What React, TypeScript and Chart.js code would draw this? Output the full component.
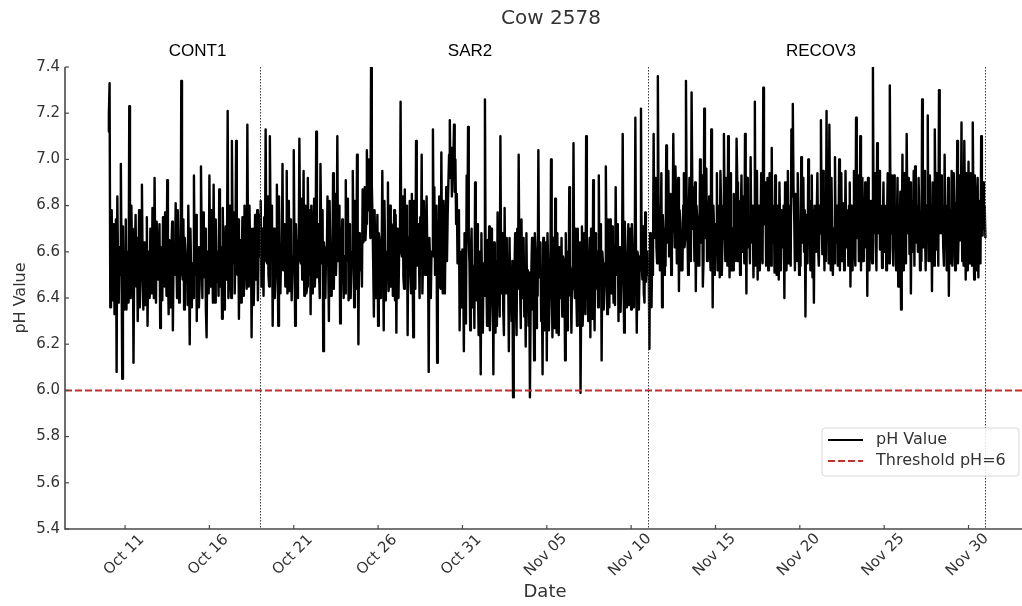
import React, { useEffect, useRef } from 'react';
import { Chart, registerables } from 'chart.js';

Chart.register(...registerables);

// Time axis: day numbers counted from Oct 0 (Oct 11 = 11, Nov 5 = 36, Dec 1 = 62)
const START_DAY = 10; // first reading: Oct 10, 00:00
const STEP_DAYS = 1 / 24; // hourly readings

// Hourly pH readings (24 per day), estimated from the reference chart
const phValues: number[] = [
  // Oct 10
  7.12, 7.2, 7.33, 6.36, 6.58, 6.78, 6.39, 6.52, 6.72, 6.33, 6.45, 6.74,
  6.08, 6.84, 6.55, 6.38, 6.62, 6.5, 6.98, 6.56, 6.05, 6.71, 6.5, 6.35,
  // Oct 11
  6.6, 6.74, 6.35, 6.6, 6.52, 6.38, 7.23, 6.52, 6.4, 6.8, 6.58, 6.7,
  6.12, 6.56, 6.62, 6.76, 6.45, 6.66, 6.3, 6.5, 6.78, 6.36, 6.48, 6.6,
  // Oct 12
  6.89, 6.55, 6.35, 6.64, 6.62, 6.37, 6.55, 6.75, 6.28, 6.6, 6.5, 6.4,
  6.7, 6.47, 6.42, 6.79, 6.58, 6.4, 6.92, 6.57, 6.38, 6.73, 6.55, 6.48,
  // Oct 13
  6.6, 6.72, 6.27, 6.62, 6.5, 6.39, 6.75, 6.48, 6.45, 6.77, 6.58, 6.41,
  6.91, 6.54, 6.33, 6.65, 6.47, 6.36, 6.62, 6.73, 6.26, 6.58, 6.6, 6.5,
  // Oct 14
  6.81, 6.57, 6.4, 6.78, 6.62, 6.38, 6.55, 6.5, 7.34, 6.55, 6.48, 6.74,
  6.35, 6.66, 6.6, 6.47, 6.55, 6.37, 6.8, 6.52, 6.2, 6.7, 6.52, 6.36,
  // Oct 15
  6.55, 6.4, 6.93, 6.56, 6.5, 6.76, 6.3, 6.62, 6.62, 6.36, 6.45, 6.58,
  6.97, 6.66, 6.4, 6.77, 6.58, 6.49, 6.7, 6.35, 6.23, 6.6, 6.6, 6.42,
  // Oct 16
  6.93, 6.54, 6.45, 6.78, 6.58, 6.38, 6.89, 6.56, 6.38, 6.74, 6.52, 6.47,
  6.6, 6.41, 6.87, 6.64, 6.45, 6.62, 6.31, 6.79, 6.55, 6.35, 6.5, 6.71,
  // Oct 17
  6.48, 6.58, 7.21, 6.4, 6.6, 6.8, 6.5, 6.4, 7.08, 6.68, 6.55, 6.77,
  6.42, 6.6, 7.08, 6.53, 6.5, 6.74, 6.31, 6.64, 6.65, 6.38, 6.58, 6.75,
  // Oct 18
  6.52, 6.41, 6.8, 6.5, 6.55, 6.44, 7.15, 6.6, 6.45, 6.8, 6.6, 6.7,
  6.23, 6.62, 6.7, 6.37, 6.52, 6.76, 6.48, 6.52, 6.78, 6.39, 6.62, 6.76,
  // Oct 19
  6.58, 6.82, 6.45, 6.7, 6.62, 6.41, 6.75, 6.56, 7.13, 6.62, 6.55, 6.84,
  6.5, 6.45, 7.1, 6.72, 6.6, 6.8, 6.28, 6.66, 6.7, 6.4, 6.5, 6.62,
  // Oct 20
  6.89, 6.58, 6.28, 6.84, 6.55, 6.42, 6.6, 6.57, 6.98, 6.52, 6.62, 6.72,
  6.45, 6.6, 6.95, 6.42, 6.58, 6.82, 6.43, 6.74, 6.72, 6.39, 6.52, 6.58,
  // Oct 21
  7.04, 6.63, 6.28, 6.72, 6.6, 6.4, 6.65, 6.56, 7.09, 6.68, 6.55, 6.83,
  6.48, 6.62, 6.95, 6.41, 6.62, 6.8, 6.42, 6.45, 6.92, 6.6, 6.5, 6.78,
  // Oct 22
  6.33, 6.8, 6.6, 6.42, 6.68, 6.83, 6.45, 6.58, 7.12, 6.49, 6.6, 6.72,
  6.51, 6.4, 6.98, 6.7, 6.55, 6.78, 6.17, 6.64, 6.55, 6.4, 6.62, 6.56,
  // Oct 23
  6.84, 6.56, 6.3, 6.82, 6.58, 6.41, 6.62, 6.57, 6.94, 6.44, 6.66, 6.85,
  6.5, 6.61, 7.1, 6.56, 6.6, 6.8, 6.29, 6.66, 6.65, 6.74, 6.52, 6.4,
  // Oct 24
  6.58, 6.42, 6.91, 6.56, 6.62, 6.83, 6.39, 6.72, 6.7, 6.4, 6.55, 6.6,
  6.95, 6.6, 6.36, 6.82, 6.65, 6.44, 7.02, 6.68, 6.2, 6.68, 6.58, 6.52,
  // Oct 25
  6.6, 6.45, 6.87, 6.64, 6.7, 6.88, 6.65, 6.72, 7.04, 6.84, 6.78, 7.0,
  6.8, 6.66, 7.41, 6.9, 6.75, 6.55, 6.32, 6.78, 6.6, 6.4, 6.55, 6.76,
  // Oct 26
  6.28, 6.68, 6.65, 6.4, 6.5, 6.55, 6.95, 6.58, 6.26, 6.82, 6.6, 6.39,
  6.58, 6.56, 6.9, 6.43, 6.52, 6.8, 6.45, 6.72, 6.7, 6.41, 6.62, 6.78,
  // Oct 27
  6.39, 6.76, 6.25, 6.7, 6.52, 6.4, 6.62, 6.6, 7.25, 6.6, 6.58, 6.84,
  6.49, 6.44, 6.87, 6.53, 6.65, 6.8, 6.24, 6.66, 6.6, 6.82, 6.5, 6.42,
  // Oct 28
  6.85, 6.58, 6.23, 6.82, 6.55, 6.44, 7.08, 6.68, 6.54, 6.72, 6.62, 6.4,
  6.75, 6.56, 7.02, 6.42, 6.58, 6.82, 6.51, 6.5, 6.7, 6.84, 6.6, 6.64,
  // Oct 29
  6.08, 6.66, 6.55, 6.4, 6.6, 6.58, 7.13, 6.68, 6.88, 6.5, 6.5, 6.8,
  6.12, 6.64, 6.6, 6.84, 6.45, 6.44, 7.03, 6.58, 6.42, 6.82, 6.62, 6.42,
  // Oct 30
  6.7, 6.88, 6.56, 6.76, 6.9, 7.02, 7.17, 6.92, 7.05, 6.84, 7.02, 6.98,
  7.15, 6.86, 7.0, 6.72, 6.85, 6.55, 6.68, 6.78, 6.26, 6.6, 6.55, 6.36,
  // Oct 31
  6.61, 6.52, 6.17, 6.68, 6.48, 6.29, 6.93, 6.66, 7.14, 6.64, 6.55, 6.26,
  6.6, 6.7, 6.36, 6.54, 6.52, 6.27, 6.9, 6.5, 6.39, 6.72, 6.45, 6.24,
  // Nov 01
  6.6, 6.44, 6.07, 6.68, 6.4, 6.25, 6.55, 6.41, 7.26, 6.54, 6.5, 6.28,
  6.65, 6.44, 6.71, 6.26, 6.38, 6.7, 6.45, 6.54, 6.07, 6.64, 6.48, 6.25,
  // Nov 02
  6.56, 6.28, 6.77, 6.38, 6.45, 6.32, 7.1, 6.52, 6.42, 6.68, 6.35, 6.24,
  6.79, 6.42, 6.55, 6.66, 6.42, 6.52, 6.17, 6.66, 6.4, 6.49, 6.3, 6.56,
  // Nov 03
  5.97, 6.46, 6.51, 6.68, 6.38, 6.24, 6.7, 6.44, 7.02, 6.52, 6.45, 6.27,
  6.74, 6.41, 6.4, 6.66, 6.32, 6.49, 6.19, 6.68, 6.41, 6.52, 6.28, 6.51,
  // Nov 04
  5.97, 6.36, 6.51, 6.66, 6.35, 6.49, 6.13, 6.68, 6.6, 6.27, 6.42, 6.41,
  7.04, 6.54, 6.49, 6.64, 6.3, 6.44, 6.07, 6.66, 6.49, 6.26, 6.38, 6.64,
  // Nov 05
  6.13, 6.68, 6.55, 6.26, 6.4, 6.41, 7.0, 6.52, 6.23, 6.66, 6.5, 6.27,
  6.83, 6.5, 6.25, 6.68, 6.38, 6.24, 6.62, 6.4, 6.45, 6.66, 6.32, 6.58,
  // Nov 06
  6.56, 6.52, 6.13, 6.68, 6.45, 6.26, 6.6, 6.41, 6.88, 6.54, 6.52, 6.25,
  6.49, 6.44, 7.07, 6.5, 6.4, 6.7, 6.42, 6.28, 6.7, 6.42, 6.35, 6.64,
  // Nov 07
  5.99, 6.41, 6.71, 6.28, 6.4, 6.68, 6.45, 6.33, 7.1, 6.56, 6.5, 6.3,
  6.56, 6.66, 6.23, 6.7, 6.42, 6.31, 6.91, 6.52, 6.26, 6.68, 6.48, 6.44,
  // Nov 08
  6.6, 6.36, 6.93, 6.5, 6.5, 6.72, 6.13, 6.6, 6.55, 6.35, 6.45, 6.52,
  6.97, 6.54, 6.33, 6.74, 6.55, 6.36, 6.74, 6.46, 6.42, 6.71, 6.52, 6.38,
  // Nov 09
  6.62, 6.37, 6.88, 6.5, 6.52, 6.72, 6.3, 6.62, 6.58, 6.34, 6.48, 6.52,
  7.11, 6.55, 6.25, 6.73, 6.6, 6.36, 6.55, 6.49, 6.72, 6.37, 6.45, 6.7,
  // Nov 10
  6.35, 6.72, 6.6, 6.36, 6.5, 6.5, 7.18, 6.54, 6.25, 6.6, 6.58, 6.35,
  6.52, 6.52, 7.22, 6.56, 6.48, 6.71, 6.42, 6.38, 6.77, 6.47, 6.55, 6.6,
  // Nov 11
  6.5, 6.54, 6.18, 6.68, 6.45, 6.36, 6.61, 6.5, 7.11, 6.66, 6.7, 6.92,
  6.62, 6.55, 7.36, 6.8, 6.75, 6.52, 6.62, 6.94, 6.36, 6.76, 6.68, 6.5,
  // Nov 12
  6.7, 6.54, 7.06, 6.64, 6.75, 6.95, 6.58, 6.8, 6.85, 6.5, 6.68, 6.7,
  7.11, 6.78, 6.62, 6.97, 6.82, 6.55, 6.8, 6.92, 6.43, 6.78, 6.72, 6.52,
  // Nov 13
  6.68, 6.52, 6.8, 6.94, 6.62, 6.66, 7.34, 6.78, 6.71, 6.5, 6.78, 6.92,
  6.6, 6.56, 7.29, 6.88, 6.7, 6.8, 6.56, 6.9, 6.43, 6.8, 6.75, 6.54,
  // Nov 14
  6.75, 6.54, 7.0, 6.64, 6.68, 6.93, 6.45, 6.56, 7.22, 6.66, 6.8, 6.96,
  6.56, 6.78, 6.7, 6.84, 6.62, 6.52, 7.13, 6.88, 6.36, 6.8, 6.7, 6.5,
  // Nov 15
  6.72, 6.66, 6.94, 6.52, 6.7, 6.8, 6.49, 6.95, 6.8, 6.5, 6.65, 6.68,
  7.11, 6.78, 6.56, 6.92, 6.8, 6.54, 7.1, 6.76, 6.49, 6.94, 6.72, 6.52,
  // Nov 16
  6.7, 6.52, 6.85, 6.66, 6.65, 6.56, 7.09, 6.9, 6.56, 6.82, 6.75, 6.5,
  6.78, 6.93, 6.6, 6.84, 6.82, 6.55, 7.11, 6.76, 6.42, 6.92, 6.68, 6.62,
  // Nov 17
  6.75, 6.55, 7.01, 6.64, 6.7, 6.8, 6.49, 6.68, 7.25, 6.54, 6.78, 6.95,
  6.48, 6.8, 6.8, 6.52, 6.66, 6.94, 6.62, 6.55, 7.31, 6.78, 6.72, 6.9,
  // Nov 18
  6.54, 6.68, 6.92, 6.52, 6.68, 6.94, 6.56, 6.54, 7.05, 6.64, 6.72, 6.8,
  6.51, 6.93, 6.75, 6.5, 6.62, 6.8, 6.48, 6.9, 6.7, 6.52, 6.78, 6.66,
  // Nov 19
  6.62, 6.8, 6.4, 6.9, 6.7, 6.52, 6.78, 6.95, 6.55, 6.8, 6.66, 6.54,
  7.13, 6.84, 7.24, 6.88, 6.75, 6.52, 6.85, 6.66, 6.56, 6.94, 6.72, 6.5,
  // Nov 20
  6.7, 6.54, 7.01, 6.64, 6.72, 6.92, 6.6, 6.78, 6.32, 6.76, 6.68, 6.55,
  7.0, 6.68, 6.82, 6.52, 6.75, 6.93, 6.49, 6.78, 6.38, 6.8, 6.6, 6.64,
  // Nov 21
  6.75, 6.94, 6.62, 6.54, 6.8, 6.68, 7.17, 6.78, 6.59, 6.95, 6.72, 6.52,
  6.85, 6.56, 7.21, 6.66, 6.78, 6.55, 7.15, 6.8, 6.52, 6.92, 6.7, 6.5,
  // Nov 22
  6.7, 6.55, 7.01, 6.64, 6.68, 6.8, 6.54, 6.68, 7.0, 6.52, 6.75, 6.94,
  6.56, 6.8, 6.81, 6.52, 6.62, 6.95, 6.62, 6.78, 6.75, 6.54, 6.8, 6.9,
  // Nov 23
  6.45, 6.8, 6.71, 6.52, 6.78, 6.95, 6.62, 6.54, 7.18, 6.78, 6.66, 6.93,
  6.56, 6.68, 7.1, 6.52, 6.75, 6.92, 6.56, 6.82, 6.7, 6.9, 6.62, 6.8,
  // Nov 24
  6.41, 6.92, 6.8, 6.52, 6.7, 6.82, 6.62, 6.55, 7.4, 6.68, 6.78, 6.94,
  6.64, 6.52, 7.07, 6.78, 6.68, 6.95, 6.61, 6.8, 6.75, 6.53, 6.72, 6.9,
  // Nov 25
  6.6, 6.8, 6.78, 6.52, 6.72, 6.94, 6.62, 6.55, 7.32, 6.78, 6.68, 6.93,
  6.62, 6.54, 6.93, 6.68, 6.8, 6.52, 6.7, 6.92, 6.45, 6.78, 6.66, 6.86,
  // Nov 26
  6.35, 6.68, 7.02, 6.52, 6.75, 6.94, 6.7, 6.55, 7.11, 6.78, 6.68, 6.92,
  6.59, 6.9, 6.42, 6.82, 6.6, 6.68, 6.95, 6.54, 6.97, 6.64, 6.7, 6.8,
  // Nov 27
  6.6, 6.92, 6.75, 6.52, 6.68, 6.56, 7.26, 6.8, 6.62, 6.95, 6.72, 6.52,
  6.8, 6.66, 7.19, 6.56, 6.78, 6.93, 6.56, 6.8, 6.43, 6.9, 6.7, 6.54,
  // Nov 28
  7.13, 6.78, 6.61, 6.94, 6.72, 6.54, 7.3, 6.68, 6.78, 6.93, 6.68, 6.8,
  6.62, 6.54, 7.02, 6.64, 6.8, 6.52, 6.7, 6.92, 6.41, 6.78, 6.75, 6.55,
  // Nov 29
  6.95, 6.54, 6.71, 6.94, 6.75, 6.52, 6.81, 6.68, 7.08, 6.55, 6.7, 6.93,
  6.65, 6.66, 7.16, 6.56, 6.82, 6.54, 7.08, 6.78, 6.48, 6.94, 6.68, 6.52,
  // Nov 30
  6.99, 6.55, 6.62, 6.94, 6.78, 6.54, 7.16, 6.78, 6.48, 6.93, 6.72, 6.52,
  6.8, 6.92, 6.49, 6.82, 6.75, 6.55, 7.1, 6.78, 6.67, 6.9, 6.7, 6.8,
  // Dec 01 00:00
  6.66,
];

const X_MIN_DAY = 7.44;
const X_MAX_DAY = 64.17;
const xTickDays = [11, 16, 21, 26, 31, 36, 41, 46, 51, 56, 61];
const xTickLabels = ['Oct 11', 'Oct 16', 'Oct 21', 'Oct 26', 'Oct 31', 'Nov 05', 'Nov 10', 'Nov 15', 'Nov 20', 'Nov 25', 'Nov 30'];
const yTickValues = [5.4, 5.6, 5.8, 6.0, 6.2, 6.4, 6.6, 6.8, 7.0, 7.2, 7.4];

const phaseBoundaryDays = [19, 42, 62];
const phaseNames = ['CONT1', 'SAR2', 'RECOV3'];
const phaseLabelDays = [15.3, 31.45, 52.25];

const THRESHOLD = 6;
const TITLE = 'Cow 2578';

const TEXT_COLOR = '#333333';
const SPINE_COLOR = '#4a4a4a';
const RED = '#c3302c';
const DEJAVU = '"DejaVu Sans", sans-serif';

const decorPlugin = {
  id: 'decor',
  afterDatasetsDraw(chart: any) {
    const { ctx, chartArea: a, scales } = chart;
    const xs = scales.x;
    const ys = scales.y;
    ctx.save();

    // phase boundaries (dotted)
    ctx.strokeStyle = '#3a3a3a';
    ctx.lineWidth = 1;
    ctx.setLineDash([1.5, 1.5]);
    phaseBoundaryDays.forEach((d) => {
      const px = Math.round(xs.getPixelForValue(d)) + 0.5;
      ctx.beginPath();
      ctx.moveTo(px, a.top);
      ctx.lineTo(px, a.bottom);
      ctx.stroke();
    });
    ctx.setLineDash([]);

    // spines
    ctx.strokeStyle = SPINE_COLOR;
    ctx.lineWidth = 1.6;
    ctx.beginPath();
    ctx.moveTo(a.left, a.top);
    ctx.lineTo(a.left, a.bottom);
    ctx.lineTo(a.right, a.bottom);
    ctx.stroke();

    // ticks (inward)
    ctx.lineWidth = 1.2;
    yTickValues.forEach((v) => {
      const py = ys.getPixelForValue(v);
      ctx.beginPath();
      ctx.moveTo(a.left, py);
      ctx.lineTo(a.left + 4, py);
      ctx.stroke();
    });
    xTickDays.forEach((d) => {
      const px = xs.getPixelForValue(d);
      ctx.beginPath();
      ctx.moveTo(px, a.bottom);
      ctx.lineTo(px, a.bottom - 4);
      ctx.stroke();
    });

    // tick labels
    ctx.fillStyle = TEXT_COLOR;
    ctx.font = '15px ' + DEJAVU;
    ctx.textAlign = 'right';
    ctx.textBaseline = 'middle';
    yTickValues.forEach((v) => {
      ctx.fillText(v.toFixed(1), a.left - 5, ys.getPixelForValue(v));
    });
    ctx.textAlign = 'center';
    xTickDays.forEach((d, i) => {
      const px = xs.getPixelForValue(d);
      ctx.save();
      ctx.translate(px - 1, a.bottom + 26);
      ctx.rotate(-Math.PI / 4);
      ctx.fillText(xTickLabels[i], 0, 0);
      ctx.restore();
    });

    // phase labels
    ctx.fillStyle = '#000000';
    ctx.font = '17px "Liberation Sans", Arial, sans-serif';
    ctx.textAlign = 'center';
    ctx.textBaseline = 'middle';
    phaseNames.forEach((name, i) => {
      ctx.fillText(name, xs.getPixelForValue(phaseLabelDays[i]), a.top - 16);
    });

    // title
    ctx.fillStyle = TEXT_COLOR;
    ctx.font = '20px ' + DEJAVU;
    ctx.fillText(TITLE, 551, 19);

    // axis titles
    ctx.font = '18px ' + DEJAVU;
    ctx.fillText('Date', 545, 592);
    ctx.save();
    ctx.font = '16px ' + DEJAVU;
    ctx.translate(21, (a.top + a.bottom) / 2);
    ctx.rotate(-Math.PI / 2);
    ctx.fillText('pH Value', 0, 0);
    ctx.restore();

    // legend
    const lx = 822, ly = 428, lw = 197, lh = 48;
    ctx.beginPath();
    const r = 3;
    ctx.moveTo(lx + r, ly);
    ctx.lineTo(lx + lw - r, ly);
    ctx.quadraticCurveTo(lx + lw, ly, lx + lw, ly + r);
    ctx.lineTo(lx + lw, ly + lh - r);
    ctx.quadraticCurveTo(lx + lw, ly + lh, lx + lw - r, ly + lh);
    ctx.lineTo(lx + r, ly + lh);
    ctx.quadraticCurveTo(lx, ly + lh, lx, ly + lh - r);
    ctx.lineTo(lx, ly + r);
    ctx.quadraticCurveTo(lx, ly, lx + r, ly);
    ctx.closePath();
    ctx.fillStyle = 'rgba(255,255,255,0.85)';
    ctx.fill();
    ctx.strokeStyle = '#d6d6d6';
    ctx.lineWidth = 1;
    ctx.stroke();

    ctx.lineWidth = 2;
    ctx.strokeStyle = '#000000';
    ctx.beginPath();
    ctx.moveTo(828, 440);
    ctx.lineTo(863, 440);
    ctx.stroke();
    ctx.strokeStyle = RED;
    ctx.setLineDash([7, 3]);
    ctx.beginPath();
    ctx.moveTo(828, 461);
    ctx.lineTo(863, 461);
    ctx.stroke();
    ctx.setLineDash([]);

    ctx.fillStyle = TEXT_COLOR;
    ctx.font = '16px ' + DEJAVU;
    ctx.textAlign = 'left';
    ctx.textBaseline = 'middle';
    ctx.fillText('pH Value', 876, 440);
    ctx.fillText('Threshold pH=' + THRESHOLD, 876, 461);

    ctx.restore();
  },
};

export default function App() {
  const canvasRef = useRef<HTMLCanvasElement | null>(null);

  useEffect(() => {
    document.body.style.margin = '0';
    const canvas = canvasRef.current;
    if (!canvas) return;

    const phPoints = phValues.map((v, i) => ({ x: START_DAY + i * STEP_DAYS, y: v }));
    const thresholdPoints = [
      { x: X_MIN_DAY, y: THRESHOLD },
      { x: X_MAX_DAY, y: THRESHOLD },
    ];

    const hiddenAxis = {
      grid: { display: false, drawTicks: false },
      border: { display: false },
      ticks: { display: false },
      title: { display: false },
    };

    const chart = new Chart(canvas, {
      type: 'line',
      data: {
        datasets: [
          {
            label: 'pH Value',
            data: phPoints,
            borderColor: '#000000',
            borderWidth: 2.4,
            borderJoinStyle: 'round',
            pointRadius: 0,
            tension: 0,
            fill: false,
            order: 2,
          },
          {
            label: 'Threshold pH=6',
            data: thresholdPoints,
            borderColor: RED,
            borderWidth: 2,
            borderDash: [7, 3],
            pointRadius: 0,
            fill: false,
            order: 1,
          },
        ],
      },
      options: {
        animation: false,
        responsive: false,
        devicePixelRatio: 1,
        layout: { padding: { left: 65, top: 67, right: 0, bottom: 77 } },
        plugins: {
          legend: { display: false },
          title: { display: false },
          tooltip: { enabled: false },
        },
        events: [],
        scales: {
          x: { type: 'linear', min: X_MIN_DAY, max: X_MAX_DAY, ...hiddenAxis },
          y: { type: 'linear', min: 5.4, max: 7.4, ...hiddenAxis },
        },
      },
      plugins: [decorPlugin],
    });

    return () => chart.destroy();
  }, []);

  return (
    <div style={{ position: 'fixed', left: 0, top: 0, width: 1022, height: 606, background: '#ffffff' }}>
      <canvas ref={canvasRef} width={1022} height={606} style={{ display: 'block' }} />
    </div>
  );
}
